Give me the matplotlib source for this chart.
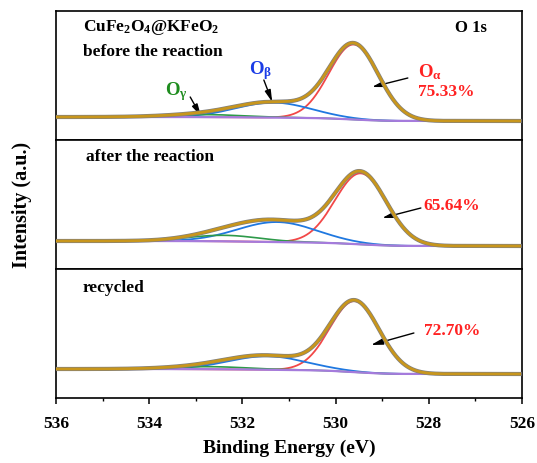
import numpy as np
import matplotlib
matplotlib.use("Agg")
import matplotlib.pyplot as plt

plt.rcParams['font.family'] = ['Liberation Serif', 'DejaVu Serif']
plt.rcParams['font.weight'] = 'bold'
plt.rcParams['mathtext.fontset'] = 'custom'
plt.rcParams['mathtext.rm'] = 'Liberation Serif:bold'
plt.rcParams['mathtext.bf'] = 'Liberation Serif:bold'
plt.rcParams['mathtext.it'] = 'Liberation Serif:bold'

# ---- data (intensities in arbitrary units) ----
panel_names = ["before the reaction", "after the reaction", "recycled"]
alpha_center = [529.61, 529.46, 529.59]
alpha_height = [75.0, 71.0, 71.0]
alpha_fwhm = [1.25, 1.30, 1.25]
beta_center = [531.33, 531.25, 531.46]
beta_height = [15.0, 20.0, 13.5]
beta_fwhm = [1.90, 2.00, 1.95]
gamma_center = [532.8, 532.4, 532.7]
gamma_height = [2.5, 6.0, 2.5]
gamma_fwhm = [2.0, 1.8, 2.0]
bg_step = [4.0, 5.0, 5.0]
alpha_percent = ["75.33%", "65.64%", "72.70%"]
energy_min, energy_max = 526.05, 536.0
xticks_major = [536, 534, 532, 530, 528, 526]

energy = np.linspace(energy_min, energy_max, 1200)


def peak(c, h, fwhm):
    s = fwhm / 2.3548
    return h * np.exp(-(energy - c) ** 2 / (2 * s * s))


def shirley(total, step):
    cum = np.cumsum(total)
    return step * cum / cum[-1]


fig = plt.figure(figsize=(5.37, 4.64), dpi=100)
W, H = 537.0, 464.0
left, right = 56, 522
panel_px = [(12, 141), (141, 270), (270, 399)]
ylims = [(-19, 110), (-23, 106), (-24, 105)]

c_red = "#F24848"
c_blue = "#1F78E0"
c_green = "#2E9A4A"
c_purple = "#A57BDC"
c_gold = "#C8961C"
c_grey = "#808080"

axes = []
for i, (top, bot) in enumerate(panel_px):
    ax = fig.add_axes([left / W, 1 - bot / H, (right - left) / W, (bot - top) / H])
    axes.append(ax)
    a = peak(alpha_center[i], alpha_height[i], alpha_fwhm[i])
    b = peak(beta_center[i], beta_height[i], beta_fwhm[i])
    g = peak(gamma_center[i], gamma_height[i], gamma_fwhm[i])
    bg = shirley(a + b + g, bg_step[i])
    env = bg + a + b + g
    ax.plot(energy, bg + a, color=c_red, lw=1.3, zorder=2)
    ax.plot(energy, bg + b, color=c_blue, lw=1.3, zorder=3)
    ax.plot(energy, bg + g, color=c_green, lw=1.2, zorder=3.5)
    ax.plot(energy, bg, color=c_purple, lw=1.6, zorder=4)
    ax.plot(energy, env, color=c_grey, lw=3.0, zorder=5)
    ax.plot(energy, env, color=c_gold, lw=2.0, zorder=6)
    ax.set_xlim(536, 526)
    ax.set_ylim(*ylims[i])
    ax.set_yticks([])
    for sp in ax.spines.values():
        sp.set_linewidth(1.2)
    if i < 2:
        ax.set_xticks([])
    else:
        ax.set_xticks(xticks_major)
        ax.set_xticks([535, 533, 531, 529, 527], minor=True)
        ax.tick_params(axis='x', which='major', direction='out', length=4, width=1.1,
                       labelsize=12.5, pad=8)
        ax.tick_params(axis='x', which='minor', direction='out', length=2.5, width=1.0)
        for lab in ax.get_xticklabels():
            lab.set_fontweight('bold')
        ax.set_xlabel("Binding Energy (eV)", fontsize=14, fontweight='bold', labelpad=6)

arrow_kw = dict(arrowstyle='-|>,head_length=0.7,head_width=0.18', color='black', lw=1.0,
                shrinkA=0, shrinkB=0)

# top panel texts
ax = axes[0]
ax.text(0.058, 0.876, "CuFe$_2$O$_4$@KFeO$_2$", transform=ax.transAxes, fontsize=12.5,
        fontweight='bold', va='center', ha='left')
ax.text(0.058, 0.69, panel_names[0], transform=ax.transAxes, fontsize=12.5,
        fontweight='bold', va='center', ha='left')
ax.text(0.925, 0.876, "O 1s", transform=ax.transAxes, fontsize=12,
        fontweight='bold', va='center', ha='right')
ax.text(533.42, 30, "O$_{\\mathbf{γ}}$", color="#1E8C1E", fontsize=13.5, fontweight='bold',
        ha='center', va='center')
ax.annotate("", xy=(532.89, 5), xytext=(533.12, 24), arrowprops=arrow_kw)
ax.text(531.60, 51, "O$_{\\mathbf{β}}$", color="#1A3CE6", fontsize=13.5, fontweight='bold',
        ha='center', va='center')
ax.annotate("", xy=(531.36, 19), xytext=(531.54, 41), arrowprops=arrow_kw)
ax.text(528.23, 50, "O$_{\\mathbf{α}}$", color="#FF2222", fontsize=13.5, fontweight='bold',
        ha='left', va='center')
ax.text(528.23, 30, alpha_percent[0], color="#FF2222", fontsize=12.5, fontweight='bold',
        ha='left', va='center')
ax.annotate("", xy=(529.22, 34), xytext=(528.45, 43), arrowprops=arrow_kw)

# middle panel
ax = axes[1]
ax.text(0.064, 0.876, panel_names[1], transform=ax.transAxes, fontsize=12.5,
        fontweight='bold', va='center', ha='left')
ax.text(528.12, 41, alpha_percent[1], color="#FF2222", fontsize=12.5, fontweight='bold',
        ha='left', va='center')
ax.annotate("", xy=(529.0, 28), xytext=(528.17, 38), arrowprops=arrow_kw)

# bottom panel
ax = axes[2]
ax.text(0.056, 0.86, panel_names[2], transform=ax.transAxes, fontsize=12.5,
        fontweight='bold', va='center', ha='left')
ax.text(528.10, 44, alpha_percent[2], color="#FF2222", fontsize=12.5, fontweight='bold',
        ha='left', va='center')
ax.annotate("", xy=(529.24, 29), xytext=(528.32, 41), arrowprops=arrow_kw)

fig.text(22 / W, 1 - 205 / H, "Intensity (a.u.)", rotation=90, fontsize=14.5,
         fontweight='bold', ha='center', va='center')

fig.savefig("out.png", dpi=100)
